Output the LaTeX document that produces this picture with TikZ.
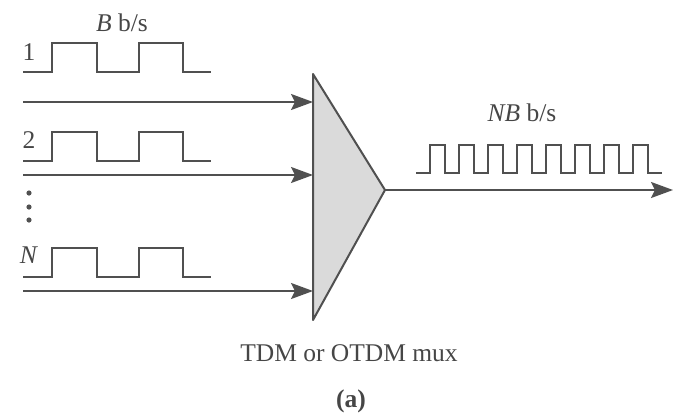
\documentclass[tikz,border=0pt]{standalone}
\usepackage{fontspec}
\setmainfont{Liberation Serif}
\usepackage{tikz}
\usetikzlibrary{arrows.meta}
\definecolor{linegray}{RGB}{80,80,80}
\definecolor{muxgray}{RGB}{218,218,218}
\definecolor{textgray}{RGB}{70,70,70}

\begin{document}
\begin{tikzpicture}[x=1pt, y=-1pt, line width=2pt, draw=linegray,
    >={Stealth[length=22pt, width=16pt, inset=4pt]},
    every node/.style={text=textgray, font=\fontsize{25.5}{30}\selectfont}]
    \useasboundingbox (0,0) rectangle (673,416);
    % the mux
    \coordinate (mtop) at (313,74);
    \coordinate (mbot) at (313,320);
    \coordinate (mtip) at (385,190);
    \filldraw[fill=muxgray, line join=round] (mtop) -- (mtip) -- (mbot) -- cycle;

    % input lines
    \foreach \name/\y in {one/102, two/175, enn/291} {
        \coordinate (in\name) at (23,\y);
        \coordinate (mux\name) at (313,\y);
        \draw[->, color=linegray] (in\name) -- (mux\name);
    }
    % input bit streams
    \foreach \b/\h in {72/43, 161/132, 277/248}
        \draw (23,\b) -| (52,\h) -| (97,\b) -| (139,\h) -| (183,\b) -- (211,\b);
    \node[] (lone) at (29,52) {1};
    \node[] (ltwo) at (29,140) {2};
    \node[] (lenn) at (29,255) {\textit{N}};
    \foreach \y in {193,207,220}
        \fill[linegray] (29,\y) circle (2.6pt);
    \node[] (brate) at (122,23) {\textit{B} b/s};

    % output
    \coordinate (out) at (673,190);
    \draw[->, color=linegray] (mtip) -- (out);
    \draw (416,173) \foreach \k in {0,...,7} { -| ({430+29*\k},145) -| ({445+29*\k},173) } -- (662,173);
    \node[] (nbrate) at (522,113) {\textit{NB} b/s};

    \node[] (muxlab) at (349,353) {TDM or OTDM mux};
    \node[] (cap) at (351,401) {\textbf{(a)}};
\end{tikzpicture}
\end{document}
